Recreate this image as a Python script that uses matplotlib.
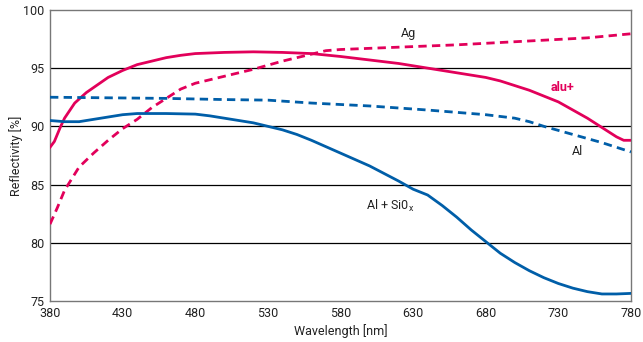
import matplotlib.pyplot as plt

plt.rcParams['font.family'] = ['Roboto', 'DejaVu Sans']

red = '#e2005a'
blue = '#005ea8'

# alu+ (solid red)
alu_x = [380, 383, 387, 390, 397, 405, 420, 430, 440, 450, 460, 470, 480, 500, 520, 540,
         560, 580, 600, 620, 640, 660, 680, 690, 700, 710, 720, 730, 740, 750, 760, 770,
         775, 780]
alu_y = [88.2, 88.7, 89.9, 90.7, 92.0, 92.9, 94.2, 94.8, 95.3, 95.6, 95.9, 96.1, 96.25, 96.35,
         96.4, 96.35, 96.25, 96.0, 95.7, 95.4, 95.0, 94.6, 94.2, 93.9, 93.5, 93.1, 92.6, 92.1,
         91.4, 90.7, 89.9, 89.1, 88.8, 88.8]

# Ag (dashed red)
ag_x = [380, 385, 390, 400, 410, 420, 430, 440, 450, 460, 470, 480, 500, 520, 540, 560, 570,
        580, 600, 630, 660, 690, 720, 750, 780]
ag_y = [81.6, 83.0, 84.5, 86.5, 87.7, 88.8, 89.8, 90.6, 91.6, 92.4, 93.2, 93.7, 94.3, 94.9,
        95.6, 96.2, 96.5, 96.6, 96.7, 96.85, 97.0, 97.2, 97.4, 97.6, 97.95]

# Al (dashed blue)
al_x = [380, 420, 460, 500, 530, 560, 600, 640, 680, 700, 710, 720, 740, 760, 780]
al_y = [92.5, 92.45, 92.4, 92.3, 92.25, 92.0, 91.75, 91.4, 91.0, 90.7, 90.4, 90.0, 89.3, 88.6, 87.8]

# Al + SiOx (solid blue)
sio_x = [380, 390, 400, 410, 420, 430, 440, 460, 480, 490, 500, 520, 530, 540, 550, 560, 580,
         600, 620, 630, 640, 650, 660, 670, 680, 690, 700, 710, 720, 730, 740, 750, 760, 770, 780]
sio_y = [90.5, 90.4, 90.4, 90.6, 90.8, 91.0, 91.1, 91.1, 91.05, 90.9, 90.7, 90.3, 90.0, 89.7,
         89.3, 88.8, 87.7, 86.6, 85.3, 84.6, 84.1, 83.2, 82.2, 81.1, 80.1, 79.1, 78.3, 77.6,
         77.0, 76.5, 76.1, 75.8, 75.6, 75.6, 75.65]

fig = plt.figure(figsize=(6.43, 3.42), dpi=100)
ax = fig.add_axes([0.0778, 0.12, 0.9035, 0.851])

for y in [80, 85, 90, 95]:
    ax.axhline(y, color='black', lw=0.9, zorder=1)

ax.plot(alu_x, alu_y, color=red, lw=2.0, zorder=3)
ax.plot(ag_x, ag_y, color=red, lw=2.0, dashes=(3.0, 1.9), zorder=3)
ax.plot(al_x, al_y, color=blue, lw=2.0, dashes=(3.0, 1.9), zorder=3)
ax.plot(sio_x, sio_y, color=blue, lw=2.0, zorder=3)

fs = 9
ax.text(627, 98.0, 'Ag', fontsize=fs, color='#222222', ha='center', va='center')
ax.text(733, 93.3, 'alu+', fontsize=fs, color=red, fontweight='bold', ha='center', va='center')
ax.text(743, 87.8, 'Al', fontsize=fs, color='#222222', ha='center', va='center')
ax.text(614, 83.2, 'Al + Si0$_\\mathregular{x}$', fontsize=fs, color='#222222',
        ha='center', va='center')

ax.set_xlim(380, 780)
ax.set_ylim(75, 100)
ax.set_xticks([380, 430, 480, 530, 580, 630, 680, 730, 780])
ax.set_yticks([75, 80, 85, 90, 95, 100])
ax.tick_params(length=0, labelsize=fs, labelcolor='#222222', pad=4)
for s in ax.spines.values():
    s.set_color('#777777')
    s.set_linewidth(1.0)

ax.set_xlabel('Wavelength [nm]', fontsize=fs, color='#222222', labelpad=3)
ax.set_ylabel('Reflectivity [%]', fontsize=fs, color='#222222', labelpad=0)

fig.savefig('out.png', dpi=100)
